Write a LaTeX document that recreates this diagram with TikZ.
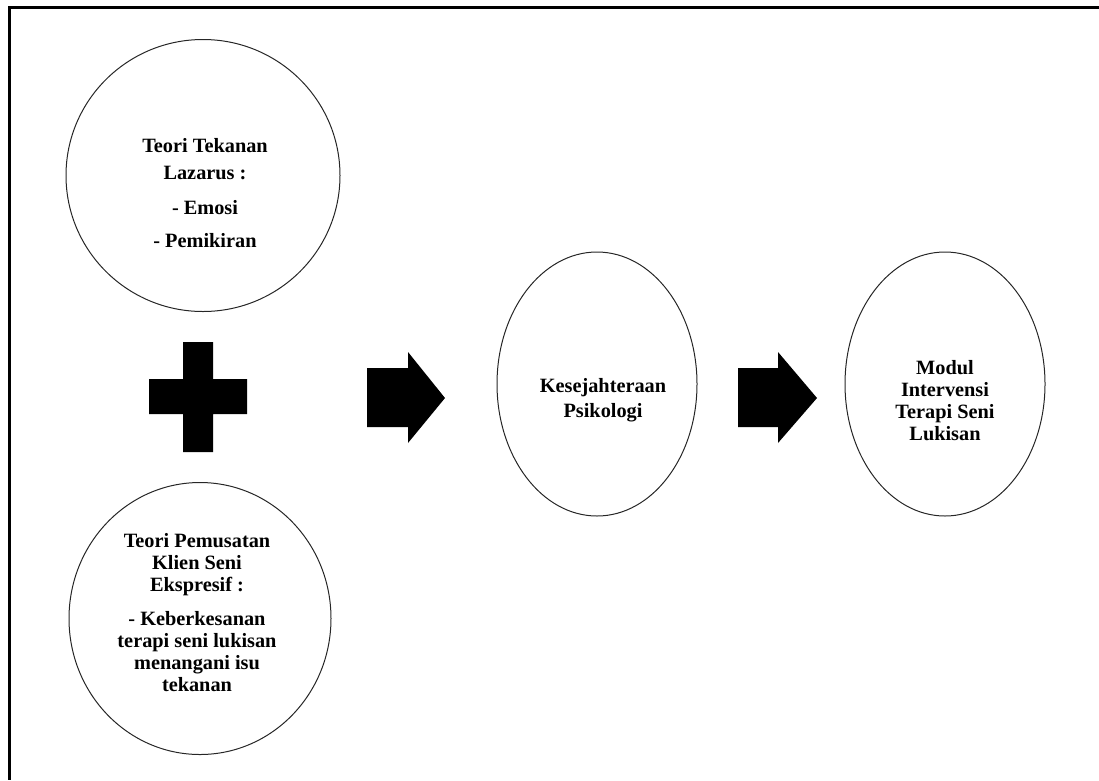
\documentclass[tikz,border=0pt]{standalone}
\usepackage{fontspec}
\setmainfont{Liberation Serif}
\usetikzlibrary{shapes.geometric}
\begin{document}
\begin{tikzpicture}[x=1pt,y=-1pt,
  bubble/.style={draw=black!85,line width=1pt,ellipse,inner sep=0pt},
  label/.style={align=center,inner sep=0pt,font=\bfseries\fontsize{20.3}{22}\selectfont},
  blockarrow/.style={fill=black,draw=none}]
\useasboundingbox (0,0) rectangle (1099,780);
% frame (top and left edges only)
\draw[line width=3pt] (1099,7.5) -- (9,7.5) -- (9,780);
% circles / ellipses
\node[bubble,minimum width=274pt,minimum height=272pt] (lazarus) at (203,175.5) {};
\node[bubble,minimum width=262pt,minimum height=272pt] (rogers) at (200,618.5) {};
\node[bubble,minimum width=200pt,minimum height=264pt] (kesej) at (597,384) {};
\node[bubble,minimum width=200pt,minimum height=264pt] (modul) at (945,384) {};
% texts
\node[label] (tl) at (205,193) {Teori Tekanan\\[5pt]Lazarus :\\[13pt]- Emosi\\[11pt]- Pemikiran};
\node[label] (tr) at (197,613) {Teori Pemusatan\\Klien Seni\\Ekspresif :\\[12pt]- Keberkesanan\\terapi seni lukisan\\menangani isu\\tekanan};
\node[label] (tk) at (603,400) {Kesejahteraan\\[3pt]Psikologi};
\node[label] (tm) at (945,401) {Modul\\Intervensi\\Terapi Seni\\Lukisan};
% plus sign
\fill[black] (183,342) -- (213,342) -- (213,379) -- (247,379) -- (247,414) -- (213,414)
  -- (213,452) -- (183,452) -- (183,414) -- (149,414) -- (149,379) -- (183,379) -- cycle;
% block arrows
\fill[blockarrow] (367,368) -- (408,368) -- (408,352) -- (445,398) -- (408,443) -- (408,427) -- (367,427) -- cycle;
\fill[blockarrow] (738,368) -- (778,368) -- (778,352) -- (817,398) -- (778,443) -- (778,427) -- (738,427) -- cycle;
\end{tikzpicture}
\end{document}
